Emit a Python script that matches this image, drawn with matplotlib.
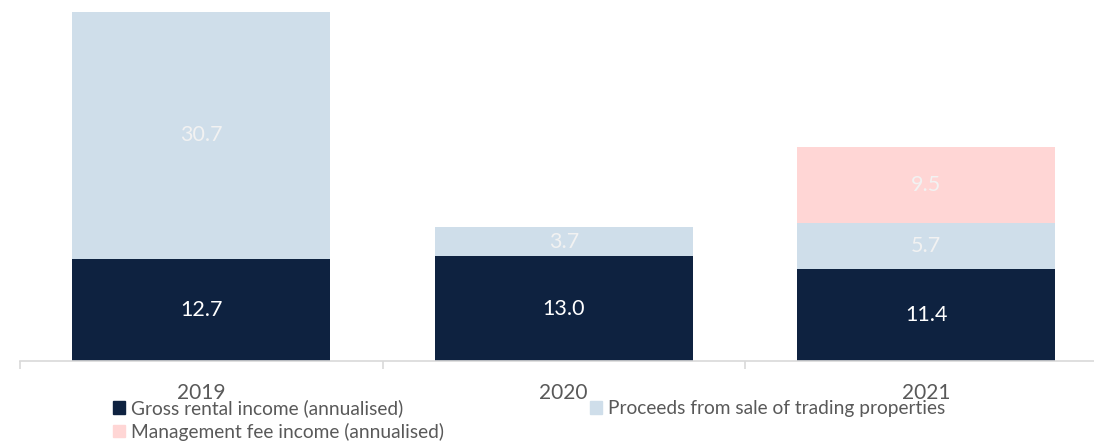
import matplotlib.pyplot as plt
from matplotlib.patches import Patch

years = ["2019", "2020", "2021"]
gross_rental = [12.7, 13.0, 11.4]
sale_proceeds = [30.7, 3.7, 5.7]
management_fee = [0, 0, 9.5]

navy = "#0E2240"
light_blue = "#CFDEEA"
pink = "#FFD6D5"

plt.rcParams["font.family"] = ["Lato", "DejaVu Sans"]

fig = plt.figure(figsize=(10.94, 4.42), dpi=100)
ax = fig.add_axes([20 / 1094, 81 / 442, 1087.5 / 1094, 354 / 442])

x = list(range(len(years)))
w = 0.712
ax.bar(x, gross_rental, w, color=navy)
ax.bar(x, sale_proceeds, w, bottom=gross_rental, color=light_blue)
bottom2 = [a + b for a, b in zip(gross_rental, sale_proceeds)]
ax.bar(x, management_fee, w, bottom=bottom2, color=pink)

for i in x:
    ax.text(i, gross_rental[i] / 2, f"{gross_rental[i]:.1f}", ha="center", va="center",
            color="white", fontsize=15.5)
    ax.text(i, gross_rental[i] + sale_proceeds[i] / 2, f"{sale_proceeds[i]:.1f}",
            ha="center", va="center", color="#F2F2F2", fontsize=15.5)
    if management_fee[i] > 0:
        ax.text(i, bottom2[i] + management_fee[i] / 2, f"{management_fee[i]:.1f}",
                ha="center", va="center", color="#F2F2F2", fontsize=15.5)

ax.set_xlim(-0.5, 2.5)
ax.set_ylim(0, 44)
for s in ["top", "right", "left"]:
    ax.spines[s].set_visible(False)
ax.spines["bottom"].set_color("#D9D9D9")
ax.spines["bottom"].set_linewidth(1.2)
ax.set_yticks([])
ax.set_xticks(x)
ax.set_xticklabels(years, fontsize=15, color="#595959")
ax.tick_params(axis="x", which="major", length=0, pad=15.5)
ax.set_xticks([-0.5, 0.5, 1.5, 2.5], minor=True)
ax.tick_params(axis="x", which="minor", length=6, color="#D9D9D9", width=1.2)

handles = [Patch(color=navy, label="Gross rental income (annualised)"),
           Patch(color=pink, label="Management fee income (annualised)"),
           Patch(color=light_blue, label="Proceeds from sale of trading properties")]
fig.legend(handles=handles, loc="upper left", bbox_to_anchor=(113 / 1094, 1 - 399 / 442),
           ncol=2, frameon=False, fontsize=13.8, borderpad=0, borderaxespad=0,
           handlelength=0.65, handleheight=0.65, handletextpad=0.3,
           labelspacing=0.3, columnspacing=7.6, labelcolor="#595959")

fig.savefig("out.png", dpi=100)
